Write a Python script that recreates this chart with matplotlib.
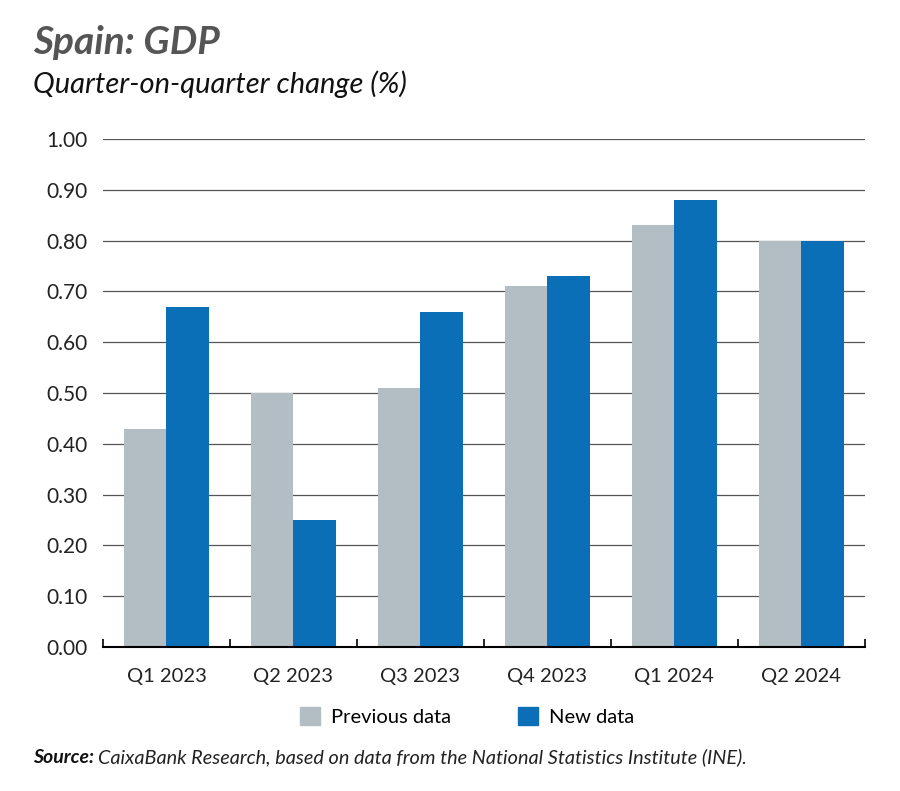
import matplotlib.pyplot as plt
import numpy as np
from matplotlib.patches import Patch

plt.rcParams['font.family'] = ['Lato', 'DejaVu Sans']

quarters = ['Q1 2023', 'Q2 2023', 'Q3 2023', 'Q4 2023', 'Q1 2024', 'Q2 2024']
previous = [0.43, 0.50, 0.51, 0.71, 0.83, 0.80]
new = [0.67, 0.25, 0.66, 0.73, 0.88, 0.80]
yticks = [0.0, 0.1, 0.2, 0.3, 0.4, 0.5, 0.6, 0.7, 0.8, 0.9, 1.0]

grey = '#b2bec3'
blue = '#0a6fb7'

fig = plt.figure(figsize=(9, 7.91), dpi=100)
ax = fig.add_axes([0.1144, 0.182, 0.8466, 0.6423])

x = np.arange(len(quarters))
w = 0.335
ax.bar(x - w / 2, previous, w, color=grey, zorder=3)
ax.bar(x + w / 2, new, w, color=blue, zorder=3)

ax.set_xlim(-0.5, len(quarters) - 0.5)
ax.set_ylim(0, 1.0)
ax.set_yticks(yticks)
ax.set_yticklabels([f'{v:.2f}' for v in yticks], fontsize=15, color='#222222')
ax.yaxis.grid(True, color='#555555', linewidth=0.9, zorder=0)
ax.tick_params(axis='y', length=0, pad=11)

ax.set_xticks(x)
ax.set_xticklabels(quarters, fontsize=14.5, color='#222222')
ax.set_xticks(np.arange(-0.5, len(quarters)), minor=True)
ax.tick_params(axis='x', which='major', length=0, pad=15)
ax.tick_params(axis='x', which='minor', length=6, width=1.2, direction='in', color='black')

for s in ['top', 'right', 'left']:
    ax.spines[s].set_visible(False)
ax.spines['bottom'].set_color('black')
ax.spines['bottom'].set_linewidth(1.5)
ax.spines['bottom'].set_zorder(4)

fig.text(0.037, 0.932, 'Spain: GDP', fontsize=28, fontweight='bold', fontstyle='italic',
         color='#555555', va='baseline')
fig.text(0.037, 0.882, 'Quarter-on-quarter change (%)', fontsize=21, fontstyle='italic',
         color='#111111', va='baseline')

handles = [Patch(color=grey, label='Previous data'), Patch(color=blue, label='New data')]
fig.legend(handles=handles, loc='center', bbox_to_anchor=(0.519, 0.094), ncol=2,
           frameon=False, fontsize=14.5, handlelength=1.0, handleheight=1.0,
           columnspacing=3.3, handletextpad=0.55)

src = fig.text(0.037, 0.035, 'Source:', fontsize=14, fontweight='bold', fontstyle='italic',
               color='#111111', va='baseline')
fig.canvas.draw()
bb = src.get_window_extent().transformed(fig.transFigure.inverted())
fig.text(bb.x1 + 0.004, 0.035,
         'CaixaBank Research, based on data from the National Statistics Institute (INE).',
         fontsize=14.3, fontstyle='italic', color='#222222', va='baseline')

fig.savefig('out.png', dpi=100)
